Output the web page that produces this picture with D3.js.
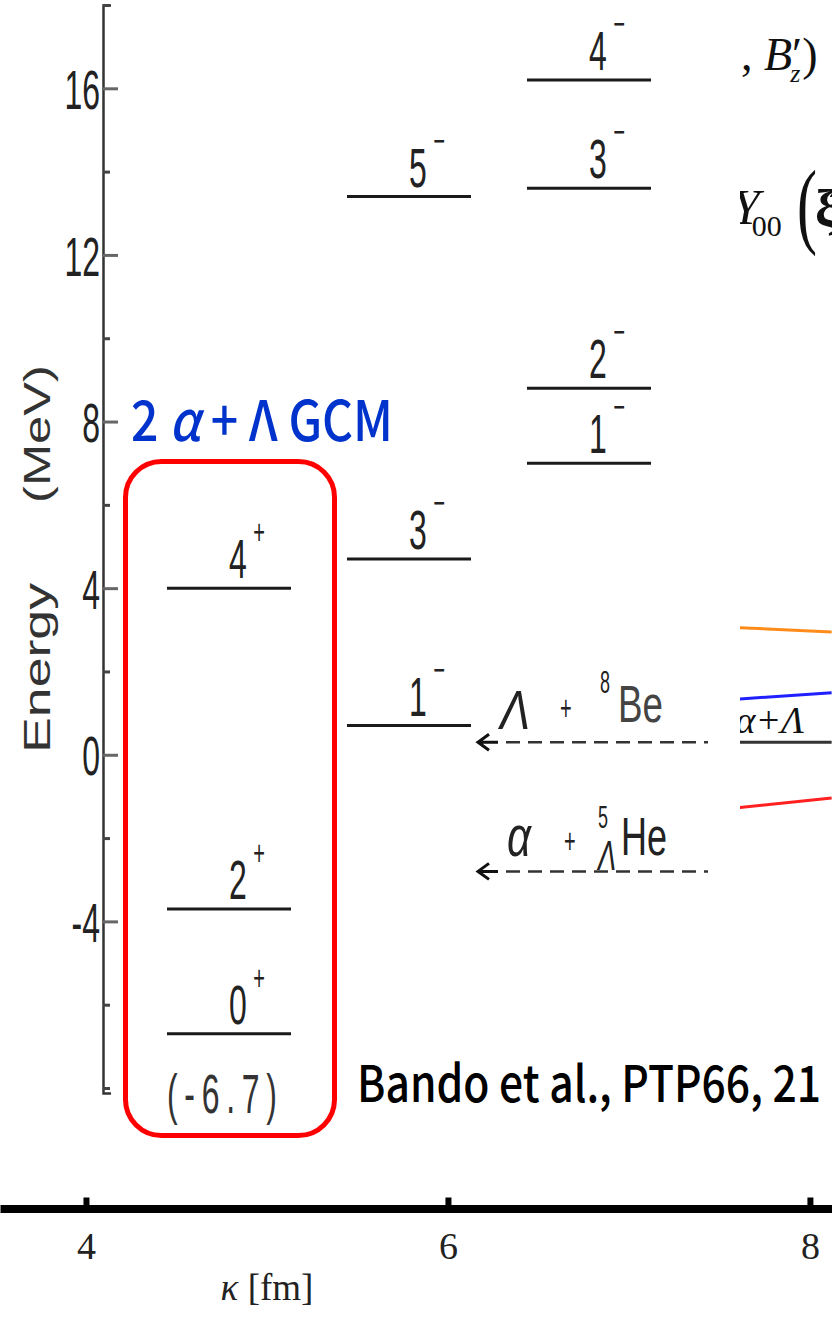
<!DOCTYPE html>
<html>
<head>
<meta charset="utf-8">
<script src="https://cdn.jsdelivr.net/npm/d3@7"></script>
<style>
  body { margin: 0; background: #fff; }
  svg { display: block; }
  .lab { font-family: "Liberation Sans", Arial, sans-serif; fill: #222; }
  .serif { font-family: "Liberation Serif", "Times New Roman", serif; fill: #111; }
</style>
</head>
<body>
<div id="chart"></div>
<script>
const width = 832;
const height = 1319;

// level scheme columns
const columns = ["gcm", "neg1", "neg2"];

// energy levels (MeV)
const levelCol = ["gcm", "gcm", "gcm", "neg1", "neg1", "neg1", "neg2", "neg2", "neg2", "neg2"];
const levelSpin = ["4", "2", "0", "5", "3", "1", "4", "3", "2", "1"];
const levelParity = ["+", "+", "+", "\u2212", "\u2212", "\u2212", "\u2212", "\u2212", "\u2212", "\u2212"];
const levelEnergy = [4.0, -3.7, -6.7, 13.4, 4.7, 0.7, 16.2, 13.6, 8.8, 7.0];

// thresholds (MeV)
const thresholdName = ["L8Be", "a5LHe"];
const thresholdEnergy = [0.3, -2.8];

const yMajorTicks = [-4, 0, 4, 8, 12, 16];
const yMinorTicks = [-8, -6, -2, 2, 6, 10, 14, 18];
const kappaTicks = [4, 6, 8];

// pieces of the neighbouring slide's curves (right edge)
const fragColor = ["#ff8c1a", "#1f1fff", "#333333", "#ff2020"];
const fragKappa = [7.61, 8.12];
const fragStartE = [3.05, 1.34, 0.3, -1.27];
const fragEndE = [2.95, 1.49, 0.3, -1.04];

const SY = 1.75; // vertical stretch of the scanned figure text

const svg = d3
  .select("#chart")
  .append("svg")
  .attr("width", width)
  .attr("height", height);

const y = d3.scaleLinear().domain([-8.12, 18]).range([1093, 5]);
const x = d3.scaleLinear().domain([3.525, 8.122]).range([0, width]);
const col = d3.scalePoint().domain(columns).range([229, 589]);

function stretched(parent, px, py) {
  return parent.append("g").attr("transform", `translate(${px},${py}) scale(1,${SY})`);
}

// energy axis
const axisX = 103;
const yAxis = svg
  .append("g")
  .attr("transform", `translate(${axisX},0)`)
  .call(
    d3.axisLeft(y)
      .tickValues(yMajorTicks)
      .tickSizeInner(-15)
      .tickSizeOuter(-8)
      .tickPadding(3)
      .tickFormat((d) => (d < 0 ? "-" + Math.abs(d) : d))
  );
yAxis.select(".domain").attr("stroke", "#333").attr("stroke-width", 2.5);
yAxis.selectAll(".tick line").attr("stroke", "#666").attr("stroke-width", 3);
yAxis
  .selectAll(".tick text")
  .attr("class", "lab")
  .style("font-size", "32px")
  .attr("dy", "0.36em")
  .attr("transform", `scale(1,${SY})`);

const yMinor = svg
  .append("g")
  .attr("transform", `translate(${axisX},0)`)
  .call(d3.axisLeft(y).tickValues(yMinorTicks).tickSizeInner(-7).tickSizeOuter(0).tickFormat(""));
yMinor.select(".domain").remove();
yMinor.selectAll(".tick line").attr("stroke", "#444").attr("stroke-width", 3);

// rotated axis title
svg
  .append("text")
  .attr("class", "lab")
  .attr("transform", "translate(50,753) rotate(-90)")
  .attr("textLength", 170)
  .attr("lengthAdjust", "spacingAndGlyphs")
  .style("font-size", "37px")
  .style("fill", "#333")
  .text("Energy");
svg
  .append("text")
  .attr("class", "lab")
  .attr("transform", "translate(50,503) rotate(-90)")
  .attr("textLength", 138)
  .attr("lengthAdjust", "spacingAndGlyphs")
  .style("font-size", "37px")
  .style("fill", "#333")
  .text("(MeV)");

// energy levels
const levels = levelEnergy.map((e, i) => ({
  col: levelCol[i],
  spin: levelSpin[i],
  parity: levelParity[i],
  e: e,
}));

svg
  .selectAll("line.level")
  .data(levels)
  .enter()
  .append("line")
  .attr("class", "level")
  .attr("x1", (d) => col(d.col) - 62)
  .attr("x2", (d) => col(d.col) + 62)
  .attr("y1", (d) => y(d.e))
  .attr("y2", (d) => y(d.e))
  .attr("stroke", "#1a1a1a")
  .attr("stroke-width", 3);

levels.forEach((d) => {
  const g = stretched(svg, col(d.col), y(d.e));
  g.append("text")
    .attr("class", "lab")
    .attr("x", 9)
    .attr("y", -10 / SY)
    .attr("text-anchor", "middle")
    .style("font-size", "32px")
    .text(d.spin);
  g.append("text")
    .attr("class", "lab")
    .attr("x", 30)
    .attr("y", -44 / SY)
    .attr("text-anchor", "middle")
    .style("font-size", "20px")
    .text(d.parity);
});

// ground state value
const ground = levels[2];
stretched(svg, col(ground.col) - 62, y(ground.e) + 79)
  .append("text")
  .attr("class", "lab")
  .attr("textLength", 110)
  .attr("lengthAdjust", "spacing")
  .style("font-size", "32px")
  .style("fill", "#333")
  .text("(-6.7)");

// thresholds
const thrX0 = 478;
const thrX1 = 708;
thresholdEnergy.forEach((e, i) => {
  const ty = y(e);
  svg
    .append("line")
    .attr("x1", thrX0 + 28)
    .attr("x2", thrX1)
    .attr("y1", ty)
    .attr("y2", ty)
    .attr("stroke", "#333")
    .attr("stroke-width", 2.5)
    .attr("stroke-dasharray", "14,8");
  svg
    .append("path")
    .attr("d", `M${thrX0 + 11},${ty - 8}L${thrX0},${ty}L${thrX0 + 11},${ty + 8}M${thrX0},${ty}H${thrX0 + 20}`)
    .attr("fill", "none")
    .attr("stroke", "#111")
    .attr("stroke-width", 3);

  if (thresholdName[i] === "L8Be") {
    stretched(svg, thrX0 + 22, ty - 13)
      .append("text").attr("class", "lab").style("font-size", "32px").style("font-style", "italic")
      .attr("textLength", 30).attr("lengthAdjust", "spacingAndGlyphs").text("\u039b");
    stretched(svg, thrX0 + 82, ty - 22)
      .append("text").attr("class", "lab").style("font-size", "20px").text("+");
    stretched(svg, thrX0 + 122, ty - 49)
      .append("text").attr("class", "lab").style("font-size", "18px").text("8");
    stretched(svg, thrX0 + 140, ty - 20)
      .append("text").attr("class", "lab").style("font-size", "30px")
      .attr("textLength", 45).attr("lengthAdjust", "spacingAndGlyphs").style("fill", "#444").text("Be");
  } else {
    stretched(svg, thrX0 + 29, ty - 15)
      .append("text").attr("class", "lab").style("font-size", "33px").style("font-style", "italic")
      .attr("textLength", 24).attr("lengthAdjust", "spacingAndGlyphs").text("\u03b1");
    stretched(svg, thrX0 + 86, ty - 18)
      .append("text").attr("class", "lab").style("font-size", "20px").text("+");
    stretched(svg, thrX0 + 120, ty - 43)
      .append("text").attr("class", "lab").style("font-size", "18px").text("5");
    stretched(svg, thrX0 + 120, ty - 1)
      .append("text").attr("class", "lab").style("font-size", "24px").style("font-style", "italic")
      .attr("textLength", 18).attr("lengthAdjust", "spacingAndGlyphs").text("\u039b");
    stretched(svg, thrX0 + 143, ty - 16)
      .append("text").attr("class", "lab").style("font-size", "31px")
      .attr("textLength", 46).attr("lengthAdjust", "spacingAndGlyphs").text("He");
  }
});

// red box around the 2alpha+Lambda GCM levels
svg
  .append("rect")
  .attr("x", 125.5)
  .attr("y", 461.5)
  .attr("width", 209)
  .attr("height", 674)
  .attr("rx", 36)
  .attr("fill", "none")
  .attr("stroke", "#ff0000")
  .attr("stroke-width", 5);

const blue = svg
  .append("text")
  .attr("x", 131)
  .attr("y", 441)
  .attr("textLength", 262)
  .attr("lengthAdjust", "spacingAndGlyphs")
  .style("font-family", '"Noto Sans CJK JP", "Noto Sans", sans-serif')
  .style("font-size", "56px")
  .style("font-weight", "500")
  .style("fill", "#0033cc");
blue.append("tspan").text("2 ");
blue.append("tspan").style("font-style", "italic").text("\u03b1");
blue.append("tspan").text(" + \u039b GCM");

svg
  .append("text")
  .attr("x", 357)
  .attr("y", 1102)
  .attr("textLength", 464)
  .attr("lengthAdjust", "spacingAndGlyphs")
  .style("font-family", '"Noto Sans CJK JP", "Noto Sans", sans-serif')
  .style("font-size", "50px")
  .style("font-weight", "500")
  .style("fill", "#000")
  .text("Bando et al., PTP66, 21");

// kappa axis at the bottom
const xAxis = svg
  .append("g")
  .attr("transform", "translate(0,1208.5)")
  .call(
    d3.axisBottom(x)
      .tickValues(kappaTicks)
      .tickFormat(d3.format("d"))
      .tickSizeInner(-11)
      .tickSizeOuter(0)
      .tickPadding(24)
  );
xAxis.select(".domain").attr("stroke", "#000").attr("stroke-width", 8);
xAxis.selectAll(".tick line").attr("stroke", "#000").attr("stroke-width", 6);
xAxis
  .selectAll(".tick text")
  .attr("class", "serif")
  .style("font-size", "38px")
  .style("fill", "#222");

const kLabel = svg
  .append("text")
  .attr("class", "serif")
  .attr("x", 267)
  .attr("y", 1300)
  .attr("text-anchor", "middle")
  .style("font-size", "37px")
  .style("fill", "#222");
kLabel.append("tspan").style("font-style", "italic").text("\u03ba");
kLabel.append("tspan").text(" [fm]");

// fragments of the next slide at the right edge
svg
  .append("clipPath")
  .attr("id", "frag-clip")
  .append("rect")
  .attr("x", 740)
  .attr("y", 0)
  .attr("width", 92)
  .attr("height", 900);
const frag = svg.append("g").attr("clip-path", "url(#frag-clip)");

frag
  .selectAll("line")
  .data(fragColor)
  .enter()
  .append("line")
  .attr("x1", x(fragKappa[0]))
  .attr("x2", x(fragKappa[1]))
  .attr("y1", (d, i) => y(fragStartE[i]))
  .attr("y2", (d, i) => y(fragEndE[i]))
  .attr("stroke", (d) => d)
  .attr("stroke-width", 3);

frag
  .append("text")
  .attr("class", "serif")
  .attr("x", 804)
  .attr("y", 733)
  .attr("text-anchor", "end")
  .style("font-size", "38px")
  .style("font-style", "italic")
  .text("\u03b1+\u039b");

const fb = frag
  .append("text")
  .attr("class", "serif")
  .attr("x", 741)
  .attr("y", 70)
  .style("font-size", "46px");
fb.append("tspan").text(", ");
fb.append("tspan").style("font-style", "italic").text("B");
fb.append("tspan").text("\u2032");
fb.append("tspan").attr("dx", -12).attr("dy", 12).style("font-size", "26px").style("font-style", "italic").text("z");
fb.append("tspan").attr("dx", 2).attr("dy", -12).text(")");

const fy = frag
  .append("text")
  .attr("class", "serif")
  .attr("x", 732)
  .attr("y", 224)
  .style("font-size", "50px");
fy.append("tspan").style("font-style", "italic").text("Y");
fy.append("tspan").attr("dx", -8).attr("dy", 12).style("font-size", "30px").text("00");
frag
  .append("text")
  .attr("class", "serif")
  .attr("transform", "translate(797,236) scale(1,1.6)")
  .style("font-size", "60px")
  .style("font-weight", "200")
  .text("(");
frag
  .append("text")
  .attr("class", "serif")
  .attr("x", 815)
  .attr("y", 226)
  .style("font-size", "52px")
  .style("font-weight", "bold")
  .text("\u03be\u0302");
</script>
</body>
</html>
